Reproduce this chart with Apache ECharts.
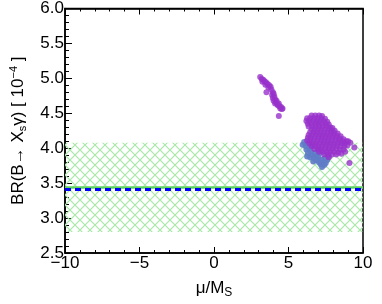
<!DOCTYPE html>
<html><head><meta charset="utf-8">
<script src="https://cdn.jsdelivr.net/npm/echarts@6/dist/echarts.min.js"></script>
<style>html,body{margin:0;padding:0;background:#fff}#c{width:382px;height:304px}</style>
</head><body><div id="c"></div>
<script>
var xTicks = [-10, -5, 0, 5, 10];
var yTicks = [2.5, 3.0, 3.5, 4.0, 4.5, 5.0, 5.5, 6.0];
var bandLow = 2.80, bandHigh = 4.08;
var greenLineValue = 3.44;
var blueLineValue = 3.41;

var purplePoints = [
 [3.10,5.02],[3.20,4.99],[3.30,4.98],[3.25,4.95],[3.40,4.96],[3.50,4.94],[3.45,4.91],[3.60,4.92],[3.70,4.90],[3.65,4.87],
 [3.80,4.88],[3.85,4.84],[3.52,4.80],[3.95,4.80],[3.90,4.76],[4.00,4.78],[4.05,4.74],[3.95,4.72],[4.10,4.70],[4.00,4.68],
 [4.15,4.66],[4.20,4.68],[4.10,4.64],[4.25,4.63],[4.30,4.61],[4.35,4.64],[4.40,4.60],[4.45,4.57],[4.50,4.59],[4.55,4.56],
 [4.60,4.57],[4.35,4.46],
 [6.55,4.47],[6.80,4.47],[7.05,4.47],[7.25,4.46],
 [6.25,4.43],[6.45,4.43],[6.70,4.43],[6.95,4.43],[7.20,4.43],[7.45,4.42],
 [6.20,4.39],[6.40,4.39],[6.65,4.39],[6.90,4.39],[7.10,4.39],[7.35,4.39],[7.60,4.38],
 [6.30,4.35],[6.55,4.35],[6.80,4.35],[7.00,4.35],[7.25,4.35],[7.50,4.35],[7.70,4.34],
 [6.35,4.31],[6.60,4.31],[6.85,4.31],[7.05,4.31],[7.30,4.31],[7.55,4.31],[7.80,4.30],[7.95,4.29],
 [6.55,4.27],[6.75,4.27],[7.00,4.27],[7.20,4.27],[7.45,4.27],[7.70,4.27],[7.90,4.26],[8.10,4.25],
 [6.45,4.23],[6.70,4.23],[6.90,4.23],[7.15,4.23],[7.40,4.23],[7.60,4.23],[7.85,4.23],[8.05,4.22],[8.30,4.21],
 [6.35,4.19],[6.60,4.19],[6.85,4.19],[7.10,4.19],[7.30,4.19],[7.55,4.19],[7.80,4.19],[8.00,4.19],[8.25,4.18],[8.50,4.17],
 [6.30,4.15],[6.50,4.15],[6.75,4.15],[7.00,4.15],[7.25,4.15],[7.50,4.15],[7.70,4.15],[7.95,4.15],[8.20,4.15],[8.45,4.14],[8.70,4.13],
 [6.25,4.11],[6.45,4.11],[6.70,4.11],[6.95,4.11],[7.20,4.11],[7.40,4.11],[7.65,4.11],[7.90,4.11],[8.15,4.11],[8.40,4.11],[8.65,4.10],[8.90,4.10],
 [6.40,4.07],[6.60,4.07],[6.85,4.07],[7.10,4.07],[7.35,4.07],[7.60,4.07],[7.80,4.07],[8.05,4.07],[8.30,4.07],[8.55,4.07],[8.80,4.07],[9.15,4.08],
 [6.55,4.03],[6.80,4.03],[7.00,4.03],[7.25,4.03],[7.50,4.03],[7.75,4.03],[8.00,4.03],[8.25,4.03],[8.50,4.03],[8.75,4.03],[8.95,4.04],
 [6.75,3.99],[7.00,3.99],[7.20,3.99],[7.45,3.99],[7.70,3.99],[7.95,3.99],[8.20,3.99],[8.45,3.98],[8.70,3.98],
 [7.05,3.95],[7.30,3.95],[7.55,3.95],[7.80,3.95],[8.05,3.95],[8.35,3.94],[8.80,3.95],
 [7.40,3.91],[7.65,3.91],[7.90,3.91],[8.20,3.91],[7.70,3.87],[8.55,3.92],
 [9.42,4.01],[9.09,3.79],[9.00,4.10]
];

var bluePoints = [
 [6.05,4.09],[6.15,4.03],[6.30,4.06],[6.20,3.98],[6.40,3.99],[6.30,3.93],[6.50,3.95],[6.60,3.90],[6.45,3.87],[6.75,3.93],
 [6.70,3.86],[6.90,3.90],[6.85,3.83],[7.00,3.87],[7.05,3.80],[7.20,3.84],[7.15,3.77],[7.30,3.80],[7.40,3.76],[7.25,3.73],
 [7.50,3.79],[7.60,3.83],[7.45,3.86],[6.66,3.81],[7.10,3.93],[6.95,3.97],[7.70,3.88],[6.55,4.02],[6.25,3.88],[5.95,4.05]
];

function hatch() {
  var s = 10;
  var c = document.createElement('canvas');
  c.width = s; c.height = s;
  var g = c.getContext('2d');
  g.strokeStyle = '#a8e8a8';
  g.lineWidth = 1.2;
  g.beginPath();
  g.moveTo(0, 0); g.lineTo(s, s);
  g.moveTo(s, 0); g.lineTo(0, s);
  g.moveTo(-1, s - 1); g.lineTo(1, s + 1);
  g.moveTo(s - 1, -1); g.lineTo(s + 1, 1);
  g.stroke();
  return c;
}

var font = 'Liberation Sans, Arial, Helvetica, sans-serif';
var fmt = function (v) { return String(v).replace('-', '\u2212'); };
var chart = echarts.init(document.getElementById('c'), null, {renderer: 'canvas'});
chart.setOption({
  animation: false,
  grid: {left: 61, right: 19, top: 7, bottom: 47, show: true, borderColor: '#000', borderWidth: 1.5},
  xAxis: [{
    type: 'value', min: xTicks[0], max: xTicks[xTicks.length - 1], interval: 5,
    position: 'bottom',
    axisLine: {show: true, onZero: false, lineStyle: {color: '#000', width: 1.5}},
    axisTick: {inside: true, length: 6, lineStyle: {color: '#000'}},
    minorTick: {show: true, splitNumber: 5, length: 3, lineStyle: {color: '#000'}},
    splitLine: {show: false},
    axisLabel: {color: '#000', fontSize: 17, fontFamily: font, margin: 2, formatter: fmt},
    name: '{n|\u03bc/M}{sub|S}', nameLocation: 'middle', nameGap: 24,
    nameTextStyle: {rich: {
      n: {fontSize: 17, fontFamily: font, color: '#000'},
      sub: {fontSize: 12, fontFamily: font, color: '#000', verticalAlign: 'bottom', padding: [10, 0, 0, 0]}
    }}
  }, {
    type: 'value', min: xTicks[0], max: xTicks[xTicks.length - 1], interval: 5,
    position: 'top',
    axisLine: {show: true, onZero: false, lineStyle: {color: '#000', width: 1.5}},
    axisTick: {inside: true, length: 6, lineStyle: {color: '#000'}},
    minorTick: {show: true, splitNumber: 5, length: 3, lineStyle: {color: '#000'}},
    splitLine: {show: false}, axisLabel: {show: false}
  }],
  yAxis: [{
    type: 'value', min: yTicks[0], max: yTicks[yTicks.length - 1], interval: 0.5,
    axisLine: {show: true, onZero: false, lineStyle: {color: '#000', width: 1.5}},
    axisTick: {inside: true, length: 7, lineStyle: {color: '#000'}},
    minorTick: {show: true, splitNumber: 5, length: 4, lineStyle: {color: '#000'}},
    splitLine: {show: false},
    axisLabel: {color: '#000', fontSize: 17, fontFamily: font, margin: 1, formatter: function (v) { return v.toFixed(1); }},
    name: '{n|BR(B\u2192 X}{sub|s}{n|\u03b3) [ 10}{sup|\u22124}{n| ]}', nameLocation: 'middle', nameGap: 37, nameRotate: 90,
    nameTextStyle: {rich: {
      n: {fontSize: 17, fontFamily: font, color: '#000'},
      sub: {fontSize: 11, fontFamily: font, color: '#000', verticalAlign: 'bottom', padding: [9, 0, 0, 0]},
      sup: {fontSize: 11, fontFamily: font, color: '#000', verticalAlign: 'top', padding: [0, 0, 9, 0]}
    }}
  }],
  series: [{
    type: 'scatter', data: bluePoints, symbolSize: 6, z: 2,
    itemStyle: {color: '#5f7cc8', opacity: 0.9}
  }, {
    type: 'scatter', data: purplePoints, symbolSize: 6, z: 3,
    itemStyle: {color: '#9932cc'}
  }, {
    type: 'line', data: [], z: 4,
    markArea: {silent: true, itemStyle: {color: {image: hatch(), repeat: 'repeat'}},
      data: [[{yAxis: bandLow, xAxis: xTicks[0]}, {yAxis: bandHigh, xAxis: xTicks[xTicks.length - 1]}]]}
  }, {
    type: 'line', data: [], z: 5,
    markLine: {silent: true, symbol: 'none', label: {show: false},
      data: [
        {yAxis: greenLineValue, lineStyle: {color: '#5fd35f', width: 2.5, type: 'solid'}},
        {yAxis: blueLineValue, lineStyle: {color: '#0000ff', width: 3, type: [6, 4]}}
      ]}
  }]
});
</script></body></html>
